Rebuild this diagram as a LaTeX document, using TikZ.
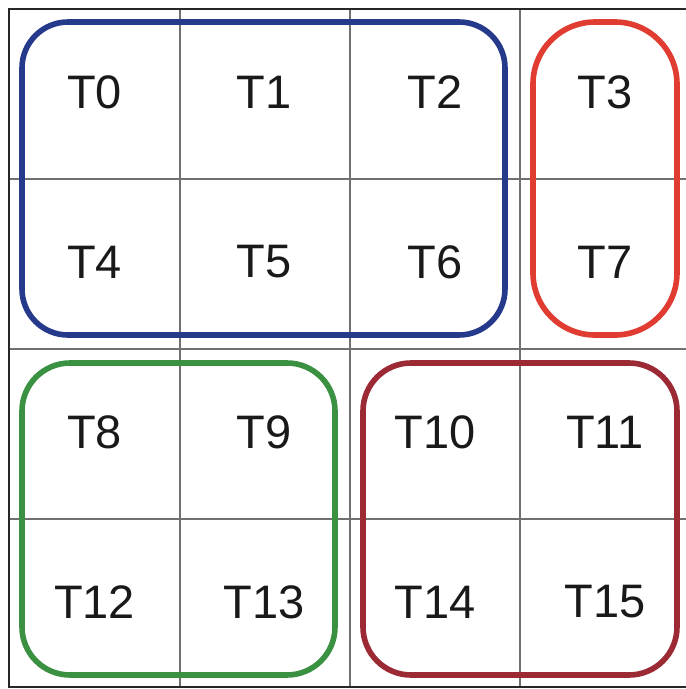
\documentclass[tikz,border=0pt]{standalone}
\usepackage{fontspec}
\setmainfont{Liberation Sans}
\definecolor{gblue}{HTML}{263A8C}
\definecolor{gred}{HTML}{E03C31}
\definecolor{ggreen}{HTML}{3A9141}
\definecolor{gdred}{HTML}{9B2A35}
\definecolor{gridgray}{HTML}{707070}
\begin{document}
\begin{tikzpicture}[x=1pt,y=-1pt,
  lbl/.style={inner sep=0pt, font=\fontsize{47}{50}\selectfont, text=black!90},
  gridline/.style={draw=gridgray, line width=1.5pt},
  outerline/.style={draw=black!85, line width=2.4pt},
  grp/.style={line width=5.6pt}]
\useasboundingbox (0,0) rectangle (686,689);
\begin{scope}
\clip (0,0) rectangle (686,689);
% inner grid
\foreach \x in {180,350,520} \draw[gridline] (\x,9) -- (\x,687);
\foreach \y in {179,349,519} \draw[gridline] (9,\y) -- (700,\y);
% outer border
\draw[outerline] (700,9) -- (9,9) -- (9,687) -- (700,687);
\end{scope}
% group boxes
\draw[grp, gblue, rounded corners=46pt] (22,22) rectangle (505,335);
\draw[grp, gred, rounded corners=62pt] (533,22) rectangle (677,335);
\draw[grp, ggreen, rounded corners=48pt] (22,363) rectangle (335,675);
\draw[grp, gdred, rounded corners=48pt] (363,363) rectangle (677,675);
% labels
\node[lbl] (t0) at (94.5,92) {T0};
\node[lbl] (t1) at (264,92) {T1};
\node[lbl] (t2) at (435,92) {T2};
\node[lbl] (t3) at (605,92) {T3};
\node[lbl] (t4) at (94.5,262) {T4};
\node[lbl] (t5) at (264,262) {T5};
\node[lbl] (t6) at (435,262) {T6};
\node[lbl] (t7) at (605,262) {T7};
\node[lbl] (t8) at (94.5,432) {T8};
\node[lbl] (t9) at (264,432) {T9};
\node[lbl] (t10) at (435,432) {T10};
\node[lbl] (t11) at (605,432) {T11};
\node[lbl] (t12) at (94.5,602) {T12};
\node[lbl] (t13) at (264,602) {T13};
\node[lbl] (t14) at (435,602) {T14};
\node[lbl] (t15) at (605,602) {T15};
\end{tikzpicture}
\end{document}
